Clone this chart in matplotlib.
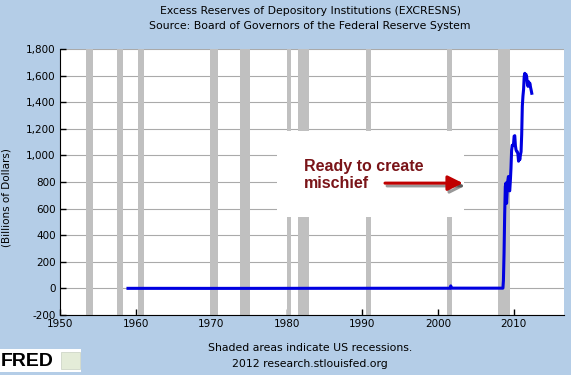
import matplotlib
matplotlib.use("Agg")
from matplotlib import pyplot as plt
from matplotlib.patches import Rectangle
from matplotlib.ticker import FuncFormatter
import matplotlib.patheffects as pe

# excess reserves, billions of dollars
early_dates = [1959.0, 1965.0, 1970.0, 1975.0, 1980.0, 1985.0, 1990.0, 1995.0,
               2000.0, 2001.6, 2001.7, 2001.8, 2005.0, 2008.6]
early_vals = [0.5, 0.4, 0.2, 0.3, 0.5, 0.9, 1.0, 1.1, 1.3, 1.3, 19.0, 2.0, 1.8, 1.9]

# monthly from 2008-09 to 2012-06
late_vals = [59, 267, 558, 767, 793, 640, 732, 812, 842, 737, 734, 811,
             905, 1040, 1077, 1074, 1081, 1145, 1149, 1074, 1043, 1031, 1029, 1011,
             957, 991, 969, 1004, 1028, 1157, 1372, 1447, 1497, 1595, 1618, 1599,
             1609, 1588, 1538, 1520, 1555, 1533, 1543, 1514, 1492, 1468]
late_dates = [2008 + (8 + i) / 12 for i in range(len(late_vals))]

# NBER recessions (start, end)
recessions = [(1953.5, 1954.4), (1957.6, 1958.3), (1960.3, 1961.1), (1969.9, 1970.9),
              (1973.8, 1975.2), (1980.0, 1980.5), (1981.5, 1982.9), (1990.5, 1991.2),
              (2001.2, 2001.9), (2007.9, 2009.5)]

bg = '#b4cde7'
fig = plt.figure(figsize=(5.71, 3.75), dpi=100, facecolor=bg)
ax = fig.add_axes([0.105, 0.16, 0.883, 0.709])
ax.set_facecolor('white')

for s, e in recessions:
    ax.axvspan(s, e, color='#c0c0c0', lw=0, zorder=1)

ax.set_yticks(range(-200, 1801, 200))
ax.grid(axis='y', color='#aaaaaa', lw=0.8, zorder=0.5)
ax.set_axisbelow(True)

ax.plot(early_dates + late_dates, early_vals + late_vals, color='#0000e0', lw=2.2,
        zorder=4, solid_joinstyle='round')

ax.set_xlim(1950, 2016.7)
ax.set_ylim(-200, 1800)
ax.set_xticks(range(1950, 2011, 10))
ax.yaxis.set_major_formatter(FuncFormatter(lambda v, p: f'{int(v):,}'))
for sp in ['top', 'right']:
    ax.spines[sp].set_visible(False)
ax.tick_params(direction='in', length=4, width=1, labelsize=7.5, colors='black', pad=3)

# annotation box
ax.add_patch(Rectangle((1978.7, 537), 24.7, 646, facecolor='white', edgecolor='none', zorder=3))
ax.text(1982.3, 973, 'Ready to create\nmischief', family='Liberation Sans', weight='bold',
        fontsize=11.5, color='#7a1418', va='top', ha='left', zorder=5, linespacing=1.15)
ax.annotate('', xy=(2003.3, 792), xytext=(1993.0, 792),
            arrowprops=dict(arrowstyle='-|>,head_length=0.9,head_width=0.45', color='#c00000',
                            lw=2.2, shrinkA=0, shrinkB=0,
                            path_effects=[pe.SimpleLineShadow(offset=(1.5, -2), alpha=0.4), pe.Normal()]),
            zorder=5)

fig.text(0.543, 1 - 11 / 375, 'Excess Reserves of Depository Institutions (EXCRESNS)',
         ha='center', va='center', fontsize=7.8)
fig.text(0.543, 1 - 26 / 375, 'Source: Board of Governors of the Federal Reserve System',
         ha='center', va='center', fontsize=7.8)
fig.text(7 / 571, 1 - 198 / 375, '(Billions of Dollars)', rotation=90,
         ha='center', va='center', fontsize=7.5)
fig.text(0.543, 1 - 348 / 375, 'Shaded areas indicate US recessions.',
         ha='center', va='center', fontsize=7.8)
fig.text(0.543, 1 - 364 / 375, '2012 research.stlouisfed.org',
         ha='center', va='center', fontsize=7.8)

# FRED logo
fig.patches.append(Rectangle((0, 3 / 375), 81 / 571, 23 / 375, transform=fig.transFigure,
                             facecolor='white', edgecolor='none'))
fig.text(1 / 571, 1 - 361 / 375, 'FRED', family='Liberation Sans', weight='bold',
         fontsize=14, color='black', ha='left', va='center')
fig.patches.append(Rectangle((61 / 571, 6 / 375), 19 / 571, 17 / 375, transform=fig.transFigure,
                             facecolor='#e4ecd8', edgecolor='#c8d0c0', lw=0.5))

fig.savefig('out.png', dpi=100, facecolor=bg)
